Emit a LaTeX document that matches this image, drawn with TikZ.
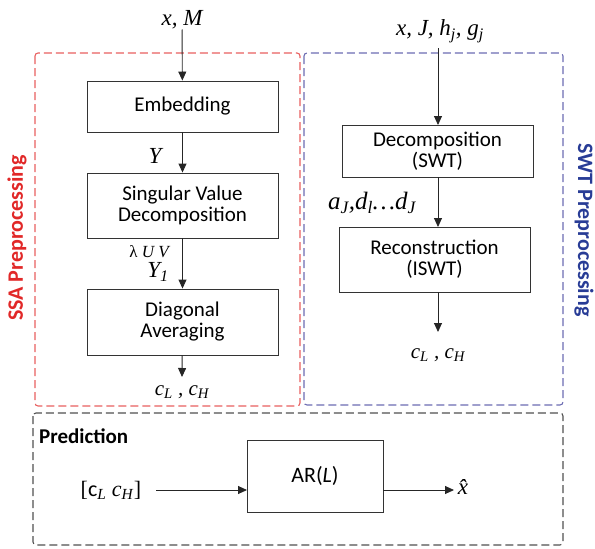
\documentclass[tikz,border=0pt]{standalone}
\usepackage{fontspec}
\setmainfont{Liberation Serif}
\newfontfamily\boxfont{Carlito}
\usetikzlibrary{arrows.meta}
\definecolor{ssared}{RGB}{232,96,96}
\definecolor{swtblue}{RGB}{108,108,178}
\definecolor{ssatext}{RGB}{225,40,40}
\definecolor{swttext}{RGB}{40,60,150}
\definecolor{predgray}{RGB}{80,80,80}
\newcommand{\sbs}[1]{\textsubscript{#1}}
\tikzset{
  procbox/.style={draw=black!80, line width=0.9pt, fill=white, font=\boxfont\fontsize{21}{23}\selectfont, align=center, inner sep=0pt},
  flow/.style={-{Triangle[length=9pt,width=8pt]}, line width=0.9pt, draw=black!85},
  lbl/.style={inner sep=0pt, font=\itshape\fontsize{23}{25}\selectfont},
  sublbl/.style={inner sep=0pt, font=\itshape\fontsize{21}{23}\selectfont},
  group/.style={dashed, dash pattern=on 8pt off 4pt, line width=1.1pt, rounded corners=3pt},
  sidetitle/.style={font=\boxfont\bfseries\fontsize{22}{24}\selectfont, inner sep=0pt}
}
\begin{document}
\begin{tikzpicture}[x=1pt,y=-1pt]
\useasboundingbox (0,0) rectangle (595,549);
% group frames
\draw[group, draw=ssared] (35,53) rectangle (300,406);
\draw[group, draw=swtblue] (304,53) rectangle (563,405);
\draw[group, draw=predgray] (33,413) rectangle (563,545);
% side titles
\node[sidetitle, text=ssatext, rotate=90] (ssat) at (17,238) {SSA Preprocessing};
\node[sidetitle, text=swttext, rotate=-90] (swtt) at (584,230) {SWT Preprocessing};
% SSA column
\node[lbl] (inA) at (182,20) {x, M};
\node[procbox, minimum width=191pt, minimum height=51pt] (emb) at (182.5,106.5) {Embedding};
\node[procbox, minimum width=191pt, minimum height=65pt] (svd) at (182.5,205.5) {Singular Value\\[-2pt]Decomposition};
\node[procbox, minimum width=191pt, minimum height=66pt] (diag) at (182.5,322) {Diagonal\\[-2pt]Averaging};
\coordinate (outA) at (182,377);
\node[sublbl] (cA) at (182,392) {c\sbs{L} , c\sbs{H}};
\draw[flow] (inA) -- (emb);
\draw[flow] (emb) -- (svd);
\draw[flow] (svd) -- (diag);
\draw[flow] (diag) -- (outA);
\node[lbl] (Ylab) at (155,156) {Y};
\node[inner sep=0pt, font=\itshape\fontsize{17}{19}\selectfont] (luv) at (149,252) {{\upshape λ} U V};
\node[lbl] (Y1lab) at (158,272) {Y\sbs{1}};
% SWT column
\node[lbl] (inB) at (440,31) {x, J, h\sbs{j}, g\sbs{j}};
\node[procbox, minimum width=191pt, minimum height=52pt] (dec) at (437.5,151) {Decomposition\\[-2pt](SWT)};
\node[procbox, minimum width=191pt, minimum height=65pt] (rec) at (434.5,259.5) {Reconstruction\\[-2pt](ISWT)};
\coordinate (outB) at (438,332);
\node[sublbl] (cB) at (438,355) {c\sbs{L} , c\sbs{H}};
\draw[flow] (438,48) -- (438,125);
\draw[flow] (438,177) -- (438,227);
\draw[flow] (438,292) -- (outB);
\node[lbl, font=\itshape\fontsize{25}{27}\selectfont] (adlab) at (372,203) {a\sbs{J},d\sbs{l}\ldots d\sbs{J}};
% prediction
\node[font=\boxfont\bfseries\fontsize{21}{23}\selectfont, anchor=west, inner sep=0pt] (predt) at (39,436) {Prediction};
\node[procbox, minimum width=136pt, minimum height=72pt, font=\boxfont\fontsize{22}{24}\selectfont] (ar) at (315,476) {AR(\textit{L})};
\node[inner sep=0pt, font=\fontsize{22}{24}\selectfont] (cin) at (111,490) {[{\boxfont c}\sbs{\textit{L}} \textit{c}\sbs{\textit{H}}]};
\coordinate (xout) at (454,490);
\node[lbl] (xhat) at (463,487) {\^{x}};
\draw[flow] (156,490) -- (247,490);
\draw[flow] (383,490) -- (xout);
\end{tikzpicture}
\end{document}
